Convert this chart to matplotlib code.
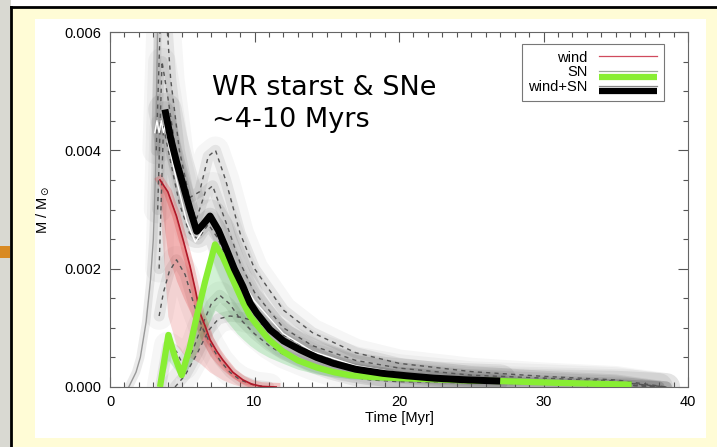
import matplotlib
matplotlib.use("Agg")
import matplotlib.pyplot as plt
from matplotlib.lines import Line2D
from matplotlib.patches import Rectangle
from matplotlib.legend_handler import HandlerBase

# median curves (time in Myr, mass fraction in units of 1e-3)
black_x = [3.8, 4.2, 4.62, 5.1, 5.54, 6.0, 6.45, 6.92, 7.5, 8.07, 8.6, 9.2, 9.69, 10.15,
           11.07, 12.0, 13.15, 14.3, 15.45, 17.0, 18.9, 20.5, 22.4, 24.7, 27.0]
black_y = [4.69, 4.2, 3.79, 3.38, 3.0, 2.63, 2.75, 2.89, 2.65, 2.32, 2.0, 1.70, 1.42, 1.25,
           0.97, 0.78, 0.63, 0.5, 0.40, 0.3, 0.23, 0.19, 0.15, 0.12, 0.10]

green_x = [3.46, 4.04, 4.5, 4.96, 5.5, 6.0, 6.6, 7.27, 7.8, 8.3, 8.8, 9.23, 9.69, 10.26,
           11.0, 11.97, 13.0, 14.3, 15.5, 16.6, 18.0, 20.0, 22.4, 24.7, 27.0, 31.0, 36.1]
green_y = [0.0, 0.88, 0.5, 0.2, 0.65, 1.19, 1.8, 2.41, 2.2, 1.93, 1.65, 1.42, 1.2, 1.02,
           0.8, 0.6, 0.45, 0.33, 0.25, 0.2, 0.17, 0.15, 0.13, 0.11, 0.10, 0.07, 0.04]
green_low = [0.0, 0.45, 0.3, 0.12, 0.35, 0.6, 0.95, 1.3, 1.2, 1.05, 0.9, 0.8, 0.7, 0.6,
             0.5, 0.4, 0.3, 0.22, 0.17, 0.14, 0.12, 0.1, 0.09, 0.08, 0.07, 0.05, 0.03]

red_x = [3.46, 4.0, 4.6, 5.1, 5.54, 5.9, 6.23, 6.6, 6.92, 7.4, 7.8, 8.5, 9.2, 9.8, 10.5, 11.5]
red_y = [3.5, 3.3, 2.89, 2.45, 2.04, 1.65, 1.25, 1.02, 0.8, 0.6, 0.46, 0.25, 0.12, 0.05, 0.01, 0.0]
red_low = [3.0, 1.2, 0.7, 0.55, 0.5, 0.45, 0.4, 0.32, 0.25, 0.18, 0.12, 0.05, 0.0, 0.0, 0.0, 0.0]

mean_x = [3.1, 3.25, 3.4, 3.55, 3.7, 3.85, 4.05, 4.6, 5.3, 5.9, 6.3, 6.8, 7.3, 8.0, 9.0,
          10.0, 12.0, 14.0, 17.0, 20.0]
mean_y = [4.3, 4.5, 4.3, 4.5, 4.3, 4.45, 4.1, 3.5, 2.8, 2.45, 2.6, 2.85, 2.75, 2.4, 1.85,
          1.45, 0.9, 0.6, 0.36, 0.24]

# individual runs (dashed grey)
runs = [
    ([3.2, 3.5, 3.8, 4.2, 4.8, 5.5, 6.2, 6.8, 7.3, 8.0, 9.0, 10, 12, 14, 17, 20, 25, 30, 35, 38.5],
     [4.0, 6.3, 6.6, 5.2, 4.0, 3.2, 3.3, 3.9, 4.0, 3.5, 2.6, 2.0, 1.3, 0.92, 0.58, 0.4, 0.26, 0.18, 0.12, 0.0]),
    ([3.3, 3.6, 4.0, 4.6, 5.3, 6.0, 6.6, 7.1, 8.0, 9.0, 10, 12, 14, 17, 20, 25, 30, 35, 38],
     [3.0, 5.5, 4.9, 3.9, 3.2, 2.85, 3.3, 3.4, 2.8, 2.1, 1.6, 1.0, 0.7, 0.45, 0.32, 0.2, 0.15, 0.1, 0.0]),
    ([3.4, 3.7, 4.2, 4.8, 5.5, 6.1, 6.8, 7.5, 8.5, 10, 12, 14, 17, 20, 25, 30, 36, 38.5],
     [2.0, 4.4, 3.8, 3.1, 2.6, 2.5, 2.75, 2.5, 1.9, 1.25, 0.75, 0.5, 0.3, 0.2, 0.13, 0.1, 0.06, 0.0]),
    ([3.4, 3.7, 4.1, 4.6, 5.2, 5.8, 6.4, 7.0, 7.6, 8.3, 9.0, 10, 11],
     [1.2, 1.6, 1.95, 2.15, 1.9, 1.4, 1.0, 0.7, 0.45, 0.25, 0.12, 0.03, 0.0]),
    ([3.5, 4.0, 4.6, 5.1, 5.7, 6.3, 7.0, 7.6, 8.3, 9.0, 10, 11, 12, 14, 16, 18, 20, 25, 30, 35, 38],
     [0.0, 0.7, 0.6, 0.35, 0.6, 1.0, 1.4, 1.55, 1.4, 1.15, 0.9, 0.7, 0.55, 0.35, 0.2, 0.12, 0.09, 0.07, 0.05, 0.04, 0.0]),
    ([4.5, 5.2, 6.0, 6.8, 7.5, 8.3, 9.0, 10, 11, 12, 14, 16, 20, 25, 30, 35, 38.5],
     [0.0, 0.2, 0.55, 0.95, 1.15, 1.2, 1.18, 1.12, 1.0, 0.88, 0.6, 0.4, 0.18, 0.1, 0.07, 0.04, 0.0]),
]

edge_x = [1.3, 1.8, 2.1, 2.5, 2.8, 3.0, 3.15, 3.3]
edge_y = [0.0, 0.25, 0.5, 1.1, 1.8, 2.5, 3.6, 6.2]

x_ticks = [0, 10, 20, 30, 40]
y_ticks = [0.0, 0.002, 0.004, 0.006]

def sc(v):
    return [a * 1e-3 for a in v]

fig = plt.figure(figsize=(7.17, 4.47), dpi=100)
fig.patch.set_facecolor("white")
W, H = 717.0, 447.0
FONT = ["Liberation Sans", "DejaVu Sans"]

# slide background (behind the axes)
bg = [
    Rectangle((0, 0), 11 / W, 1, color="#d9d9d2", lw=0),
    Rectangle((0, 1 - 258 / H), 10 / W, 12 / H, color="#d98a22", lw=0),
    Rectangle((11 / W, 0), 1 - 11 / W, 1 - 7 / H, color="#fffcd6", lw=0),
    Line2D([11 / W, 11 / W], [0, 1 - 7 / H], color="black", lw=2),
    Line2D([11 / W, 1], [1 - 7 / H, 1 - 7 / H], color="black", lw=2),
    Rectangle((35 / W, 9 / H), 671 / W, 419 / H, color="white", lw=0),
]
for i, a in enumerate(bg):
    a.set_zorder(-10 + i * 0.1)
    fig.add_artist(a)

ax = fig.add_axes([110 / W, 60 / H, 578 / W, 355 / H])
ax.set_zorder(1)
ax.set_facecolor("none")

# grey cloud of runs
for rx, ry in runs:
    ax.plot(rx, sc(ry), color="black", lw=20, alpha=0.035, solid_capstyle="round", zorder=1)
    ax.plot(rx, sc(ry), color="black", lw=8, alpha=0.07, solid_capstyle="round", zorder=1)
ax.plot(black_x, sc(black_y), color="black", lw=24, alpha=0.07, solid_capstyle="round", zorder=1)
ax.plot(black_x, sc(black_y), color="black", lw=12, alpha=0.08, solid_capstyle="round", zorder=1)
ax.plot(edge_x, sc(edge_y), color="black", lw=6, alpha=0.08, zorder=1)
ax.plot(edge_x, sc(edge_y), color="#999999", lw=1, zorder=2)

# red / green haze
red_mid = [(a + b) / 2 for a, b in zip(red_low, red_y)]
ax.fill_between(red_x, sc(red_low), sc(red_y), color="#e03030", alpha=0.18, lw=0, zorder=2)
ax.fill_between(red_x, sc(red_mid), sc(red_y), color="#e03030", alpha=0.22, lw=0, zorder=2)
ax.plot(red_x, sc(red_y), color="#e03030", lw=6, alpha=0.25, zorder=2)
ax.fill_between(green_x, sc(green_low), sc(green_y), color="#30c040", alpha=0.22, lw=0, zorder=2)

for rx, ry in runs:
    ax.plot(rx, sc(ry), color="#555555", lw=1, ls=(0, (3, 3)), zorder=3)

ax.plot(red_x, sc(red_y), color="#b01828", lw=1.2, zorder=4)
ax.plot(green_x, sc(green_y), color="#88ee33", lw=4.5, solid_capstyle="butt", zorder=4)
ax.plot(mean_x, sc(mean_y), color="white", lw=1, zorder=4)
ax.plot(black_x, sc(black_y), color="black", lw=5, solid_capstyle="butt", zorder=5)

ax.set_xlim(0, 40)
ax.set_ylim(0, 0.006)
ax.set_xticks(x_ticks)
ax.set_yticks(y_ticks)
ax.set_yticklabels(["%.3f" % v for v in y_ticks])
ax.set_xticks(range(0, 41, 1), minor=True)
ax.set_yticks([i * 0.0005 for i in range(13)], minor=True)
ax.tick_params(which="both", direction="in", top=True, right=True, color="#555555",
               labelsize=10.5, pad=6)
ax.tick_params(which="major", length=7, width=0.8)
ax.tick_params(which="minor", length=3.5, width=0.8)
for s in ax.spines.values():
    s.set_color("#666666")
    s.set_linewidth(0.8)
for lab in ax.get_xticklabels() + ax.get_yticklabels():
    lab.set_family(FONT)
ax.set_xlabel("Time [Myr]", fontsize=10.5, family=FONT, labelpad=1)
ax.set_ylabel(r"M / M$_\odot$", fontsize=10.5, family=FONT, labelpad=10)


class PairHandler(HandlerBase):
    def __init__(self, thin, thick=None):
        super().__init__()
        self.thin = thin
        self.thick = thick

    def create_artists(self, legend, orig_handle, xd, yd, width, height, fontsize, trans):
        y = height / 2 - yd
        arts = []
        if self.thick is not None:
            arts.append(Line2D([-xd, width - xd], [y - 4, y - 4], color=self.thick, lw=4.5,
                               solid_capstyle="butt", transform=trans))
        arts.append(Line2D([-xd, width - xd], [y, y], color=self.thin, lw=0.9, transform=trans))
        return arts


h1, h2, h3 = Line2D([], []), Line2D([], []), Line2D([], [])
leg = ax.legend([h1, h2, h3], ["wind", "SN", "wind+SN"],
                handler_map={h1: PairHandler("#d04a5e"), h2: PairHandler("#9aa89a", "#88ee33"),
                             h3: PairHandler("#888888", "black")},
                loc="upper right", bbox_to_anchor=(664 / W, 1 - 44 / H), bbox_transform=fig.transFigure,
                borderaxespad=0, markerfirst=False, fancybox=False, framealpha=1,
                edgecolor="#777777", handlelength=4.0, handletextpad=0.8, labelspacing=0.05,
                borderpad=0.45, prop={"family": FONT, "size": 10.5})
leg.get_frame().set_linewidth(0.8)

fig.text(212 / W, 1 - 95 / H, "WR starst & SNe", fontsize=19.5, family="DejaVu Sans", va="baseline")
fig.text(212 / W, 1 - 127 / H, "~4-10 Myrs", fontsize=19.5, family="DejaVu Sans", va="baseline")

fig.savefig("out.png", dpi=100)
